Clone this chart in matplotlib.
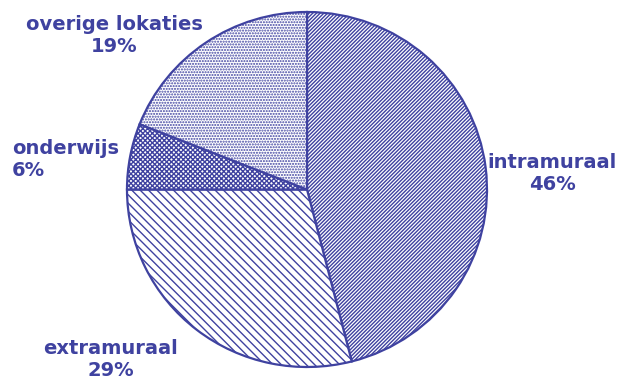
import matplotlib.pyplot as plt

plt.rcParams['font.family'] = ['DejaVu Sans']
plt.rcParams['hatch.linewidth'] = 1.0

labels = ["intramuraal", "extramuraal", "onderwijs", "overige lokaties"]
values = [46, 29, 6, 19]
hatches = ["/////////", "\\\\\\\\", "xxxxxxx", "......"]

INK = "#3f42a0"

fig = plt.figure(figsize=(6.23, 3.8), dpi=100)
W, H = 623, 380
ax = fig.add_axes([127 / W, 13 / H, 360 / W, 355 / H])

wedges, _ = ax.pie(values, startangle=90, counterclock=False,
                   colors=["white"] * len(values),
                   wedgeprops=dict(edgecolor=INK, linewidth=1.6))
for w, h in zip(wedges, hatches):
    w.set_hatch(h)
ax.set_aspect('auto')
ax.set_xlim(-1, 1)
ax.set_ylim(-1, 1)
ax.axis('off')

# label positions in pixels (x, y from top), alignment
label_pos = [
    (552, 174, "center"),
    (111, 360, "center"),
    (12, 160, "left"),
    (114, 36, "center"),
]
for lab, val, (x, y, ha) in zip(labels, values, label_pos):
    fig.text(x / W, 1 - y / H, f"{lab}\n{val}%", ha=ha, va="center",
             color=INK, fontsize=14, fontweight="bold", linespacing=1.2,
             multialignment=ha)

fig.savefig("out.png", dpi=100)
